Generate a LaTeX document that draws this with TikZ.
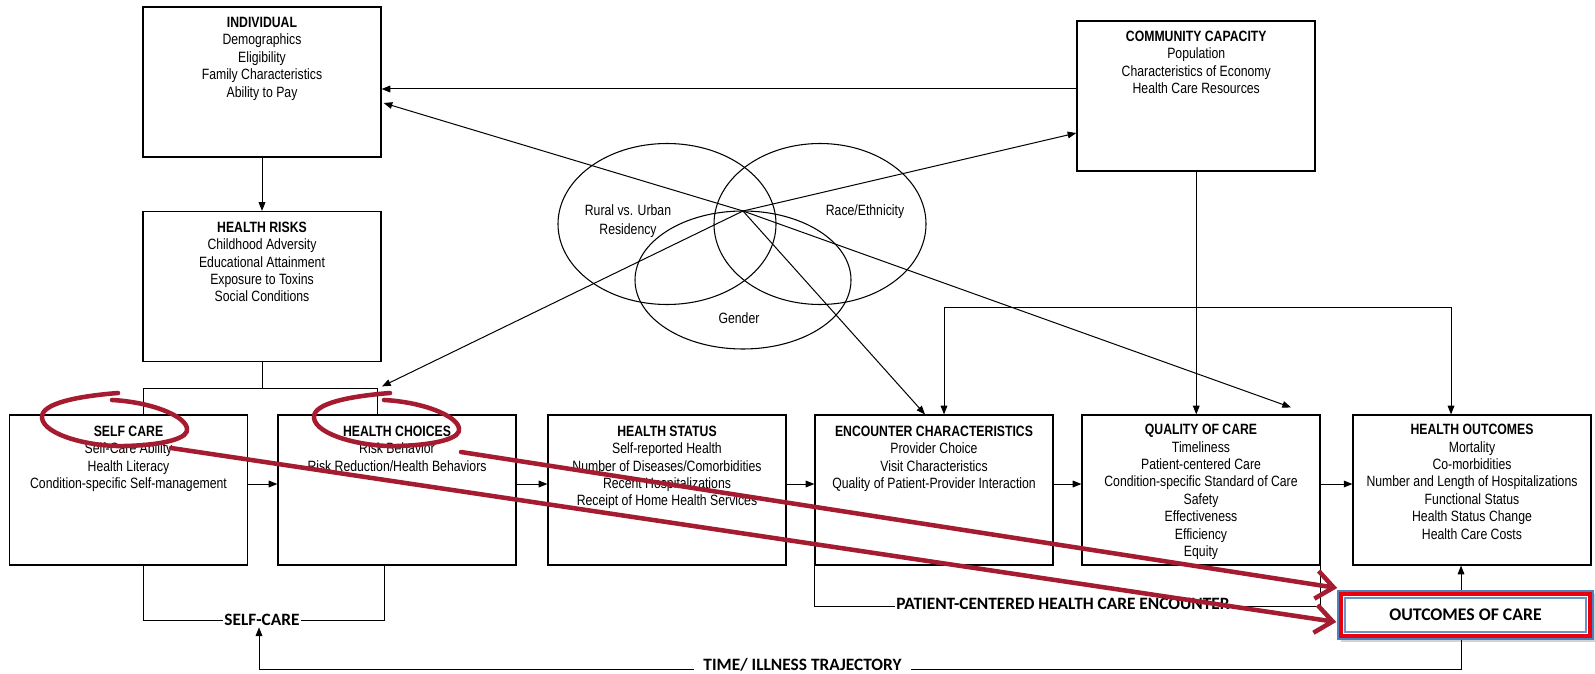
\documentclass[tikz,border=0pt]{standalone}
\usepackage{fontspec}
\setmainfont{Liberation Sans}[FakeStretch=0.82]
\newfontfamily\calib{Carlito}
\usetikzlibrary{arrows.meta,calc,shadows}
\definecolor{pen}{RGB}{165,27,48}
\definecolor{oocred}{RGB}{232,0,12}
\definecolor{oocblue}{RGB}{79,129,189}
\begin{document}
\begin{tikzpicture}[x=0.75pt,y=-0.75pt,
  >={Triangle[length=6.5pt,width=5pt]},
  box/.style={draw, line width=0.9pt, minimum width=178.5pt, minimum height=112.5pt, inner sep=0pt},
  btext/.style={anchor=north, align=center, inner sep=0pt, font=\fontsize{11.2}{13.1}\selectfont},
  vtext/.style={align=center, inner sep=0pt, font=\fontsize{11.2}{14.2}\selectfont},
  conn/.style={line width=0.75pt},
  arr/.style={conn, ->},
  bigl/.style={font=\calib\bfseries\fontsize{13}{15}\selectfont, fill=white, inner ysep=1pt},
  venn/.style={draw, line width=0.8pt},
  redpen/.style={draw=pen, line width=3.4pt, line cap=round, line join=round},
  redarr/.style={redpen, -{Straight Barb[length=13pt,width=21pt]}}
]
\useasboundingbox (0,0) rectangle (1595,674);

% ---------- boxes ----------
\node[box] (indiv) at (262,82) {};
\node[btext] (indivT) at ($(indiv.north)+(0,10.5)$) {\textbf{INDIVIDUAL}\\Demographics\\Eligibility\\Family Characteristics\\Ability to Pay};
\node[box] (risks) at (262,286.5) {};
\node[btext] (risksT) at ($(risks.north)+(0,10.5)$) {\textbf{HEALTH RISKS}\\Childhood Adversity\\Educational Attainment\\Exposure to Toxins\\Social Conditions};
\node[box, line width=1.4pt] (comm) at (1196.25,96) {};
\node[btext] (commT) at ($(comm.north)+(0,10.5)$) {\textbf{COMMUNITY CAPACITY}\\Population\\Characteristics of Economy\\Health Care Resources};

\node[box] (selfcare) at (128.5,490) {};
\node[btext] (selfcareT) at ($(selfcare.north)+(0,11)$) {\textbf{SELF CARE}\\Self-Care Ability\\Health Literacy\\Condition-specific Self-management};
\node[box] (choices) at (397,490) {};
\node[btext] (choicesT) at ($(choices.north)+(0,11)$) {\textbf{HEALTH CHOICES}\\Risk Behavior\\Risk Reduction/Health Behaviors};
\node[box] (status) at (667,490) {};
\node[btext] (statusT) at ($(status.north)+(0,11)$) {\textbf{HEALTH STATUS}\\Self-reported Health\\Number of Diseases/Comorbidities\\Recent Hospitalizations\\Receipt of Home Health Services};
\node[box] (enc) at (934,490) {};
\node[btext] (encT) at ($(enc.north)+(0,11)$) {\textbf{ENCOUNTER CHARACTERISTICS}\\Provider Choice\\Visit Characteristics\\Quality of Patient-Provider Interaction};
\node[box] (quality) at (1201,490) {};
\node[btext] (qualityT) at ($(quality.north)+(0,9.5)$) {\textbf{QUALITY OF CARE}\\Timeliness\\Patient-centered Care\\Condition-specific Standard of Care\\Safety\\Effectiveness\\Efficiency\\Equity};
\node[box] (outc) at (1472,490) {};
\node[btext] (outcT) at ($(outc.north)+(0,9.5)$) {\textbf{HEALTH OUTCOMES}\\Mortality\\Co-morbidities\\Number and Length of Hospitalizations\\Functional Status\\Health Status Change\\Health Care Costs};

% ---------- Venn ellipses ----------
\draw[venn] (667,224) ellipse [x radius=109, y radius=80.5];
\draw[venn] (820,224) ellipse [x radius=106, y radius=80.5];
\draw[venn] (743,280) ellipse [x radius=108, y radius=69];
\node[vtext] (rural) at (628,221) {Rural vs. Urban\\Residency};
\node[vtext] (race) at (865,212) {Race/Ethnicity};
\node[vtext] (gender) at (739,318) {Gender};
\coordinate (hub) at (743,211);

% ---------- connectors ----------
\draw[arr] (indiv.south) -- (risks.north);
\coordinate (c2i) at ($(comm.west)+(0,-7)$);
\draw[arr] (c2i) -- (c2i -| indiv.east);
\draw[arr] (comm.south) -- (comm.south |- quality.north);

\coordinate (brL) at ($(selfcare.north)+(14.5,-26)$);
\coordinate (brR) at ($(choices.north)+(-20,-26)$);
\draw[conn] (risks.south) -- (risks.south |- brL);
\draw[conn] (selfcare.north -| brL) -- (brL) -- (brR) -- (choices.north -| brR);

\draw[arr] (hub) -- ($(indiv.east)+(2,21)$);
\draw[arr] (hub) -- ($(comm.west)+(0,37)$);
\draw[arr] (hub) -- ($(brR)+(5,-2)$);
\draw[arr] (hub) -- ($(enc.north)+(-9,0)$);
\draw[arr] (hub) -- ($(quality.north)+(90,-7)$);

\coordinate (encIn) at ($(enc.north)+(10,0)$);
\coordinate (outIn) at ($(outc.north)+(-21,0)$);
\coordinate (loopY) at ($(comm.south)+(0,136)$);
\draw[conn,<->] (encIn) -- (encIn |- loopY) -- (outIn |- loopY) -- (outIn);

\draw[arr] ($(selfcare.east)+(0,-6)$) -- ($(choices.west)+(0,-6)$);
\draw[arr] ($(choices.east)+(0,-6)$) -- ($(status.west)+(0,-6)$);
\draw[arr] ($(status.east)+(0,-6)$) -- ($(enc.west)+(0,-6)$);
\draw[arr] ($(enc.east)+(0,-6)$) -- ($(quality.west)+(0,-6)$);
\draw[arr] ($(quality.east)+(0,-6)$) -- ($(outc.west)+(0,-6)$);

% self-care bracket
\coordinate (scY) at (262,620);
\coordinate (bbR) at ($(choices.south)+(-13,0)$);
\draw[conn] (selfcare.south -| brL) |- (bbR |- scY) -- (bbR);
\node[bigl, inner xsep=1pt] (sclab) at (scY) {SELF-CARE};

% patient-centred bracket
\coordinate (pcY) at ($(enc.south)+(0,41)$);
\draw[conn] (enc.south west) |- (pcY -| quality.south east) -- (quality.south east);
\node[bigl, inner xsep=1pt] (pclab) at (1063,603.5) {PATIENT-CENTERED HEALTH CARE ENCOUNTER};

% outcomes of care box
\node[draw=oocblue, line width=1.2pt, fill=white, minimum width=191.25pt, minimum height=36pt,
      font=\calib\bfseries\fontsize{13.3}{15}\selectfont,
      drop shadow={opacity=0.35, shadow xshift=2pt, shadow yshift=-2pt}] (ooc) at (1465.5,615) {OUTCOMES OF CARE};
\draw[oocred, line width=3.4pt] ($(ooc.south west)+(4,-4)$) rectangle ($(ooc.north east)+(-4,4)$);
\draw[oocblue!85, line width=1.6pt] ($(ooc.south west)+(7.5,-7.5)$) rectangle ($(ooc.north east)+(-7.5,7.5)$);

\coordinate (oocX) at ($(ooc.north)+(-4.5,0)$);
\draw[arr] (oocX) -- (oocX |- outc.south);
\coordinate (tcorner) at ($(ooc.south)+(-4.5,30)$);
\draw[arr] (ooc.south -| oocX) -- (tcorner) -| ($(sclab.south)+(-3,0)$);
\node[bigl, inner xsep=7pt] (tlab) at (802.5,665) {TIME/ ILLNESS TRAJECTORY};

% ---------- red annotations ----------
\draw[redpen] (118,393) .. controls (80,396) and (40,403) .. (42,418)
  .. controls (44,435) and (90,447) .. (125,446)
  .. controls (165,445) and (190,438) .. (187,428)
  .. controls (184,415) and (150,402) .. (112,400);
\draw[redpen] (390,393) .. controls (352,396) and (312,403) .. (314,418)
  .. controls (316,435) and (362,447) .. (397,446)
  .. controls (437,445) and (462,438) .. (459,428)
  .. controls (456,415) and (422,402) .. (384,400);
\coordinate (penA) at (171,448);
\coordinate (penB) at (461,452);
\draw[redarr] (penA) -- ($(ooc.west)+(-1,7)$);
\draw[redarr] (penB) -- ($(ooc.west)+(0,-27)$);
\end{tikzpicture}
\end{document}
